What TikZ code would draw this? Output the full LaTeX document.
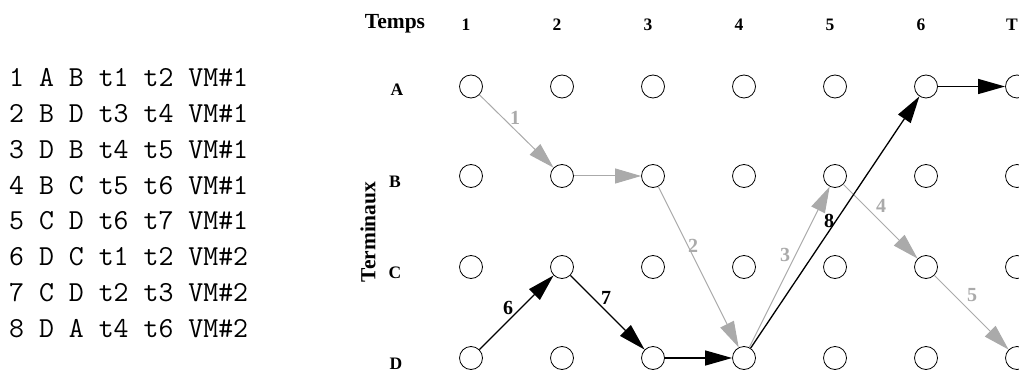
\documentclass[tikz,border=0pt]{standalone}
\usepackage{fontspec}
\setmainfont{Liberation Serif}
\usetikzlibrary{arrows.meta}
\definecolor{lgray}{RGB}{170,170,170}
\tikzset{
  vertex/.style={circle, draw, line width=0.8pt, minimum size=23pt, inner sep=0pt},
  garrow/.style={draw=lgray, line width=1pt, -{Triangle[length=26pt,width=15pt]}},
  barrow/.style={draw=black, line width=1.3pt, -{Triangle[length=27pt,width=15pt]}},
  glabel/.style={text=lgray, inner sep=0pt, font=\bfseries\fontsize{20}{20}\selectfont},
  blabel/.style={text=black, inner sep=0pt, font=\bfseries\fontsize{20}{20}\selectfont},
  hdr/.style={inner sep=0pt, font=\bfseries\fontsize{17.5}{17.5}\selectfont},
  rowlab/.style={inner sep=0pt, font=\bfseries\fontsize{17.5}{17.5}\selectfont},
  bigtitle/.style={inner sep=0pt, font=\bfseries\fontsize{21.5}{21.5}\selectfont},
  tabline/.style={anchor=base west, inner sep=0pt, font=\ttfamily\fontsize{29}{30}\selectfont}
}
\begin{document}
\begin{tikzpicture}[x=1pt,y=-1pt]
\useasboundingbox (0,0) rectangle (1019,374);
% table
\foreach \t [count=\k] in {
  {1 A B t1 t2 VM\#1},
  {2 B D t3 t4 VM\#1},
  {3 D B t4 t5 VM\#1},
  {4 B C t5 t6 VM\#1},
  {5 C D t6 t7 VM\#1},
  {6 D C t1 t2 VM\#2},
  {7 C D t2 t3 VM\#2},
  {8 D A t4 t6 VM\#2}}
  \node[tabline] (tl\k) at (9,{86.5+35.86*(\k-1)}) {\t};
% grid
\foreach \r/\y in {A/86.5,B/176,C/267,D/358}
  \foreach \i in {1,...,7}
    \node[vertex] (\r\i) at ({471+91*(\i-1)},\y) {};
% headers
\node[bigtitle] (temps) at (395,24) {Temps};
\foreach \t [count=\i] in {1,2,3,4,5,6,T}
  \node[hdr] (h\i) at ({466+91*(\i-1)},25) {\t};
\node[rowlab] (lA) at (397,90) {A};
\node[rowlab] (lB) at (395,182) {B};
\node[rowlab] (lC) at (395,273) {C};
\node[rowlab] (lD) at (396,364) {D};
\node[bigtitle, rotate=90] (term) at (368,232) {Terminaux};
% gray path (VM#1)
\draw[garrow] (A1) -- (B2);
\draw[garrow] (B2) -- (B3);
\draw[garrow] (B3) -- (D4);
\draw[garrow] (D4) -- (B5);
\draw[garrow] (B5) -- (C6);
\draw[garrow] (C6) -- (D7);
% black path (VM#2)
\draw[barrow] (D1) -- (C2);
\draw[barrow] (C2) -- (D3);
\draw[barrow] (D3) -- (D4);
\draw[barrow] (D4) -- (A6);
\draw[barrow] (A6) -- (A7);
% labels
\node[glabel] (e1) at (515,118) {1};
\node[glabel] (e2) at (693,246) {2};
\node[glabel] (e3) at (785,255) {3};
\node[glabel] (e4) at (881,206) {4};
\node[glabel] (e5) at (972,295) {5};
\node[blabel] (e6) at (508,308) {6};
\node[blabel] (e7) at (606,298) {7};
\node[blabel] (e8) at (829,221) {8};
\end{tikzpicture}
\end{document}
